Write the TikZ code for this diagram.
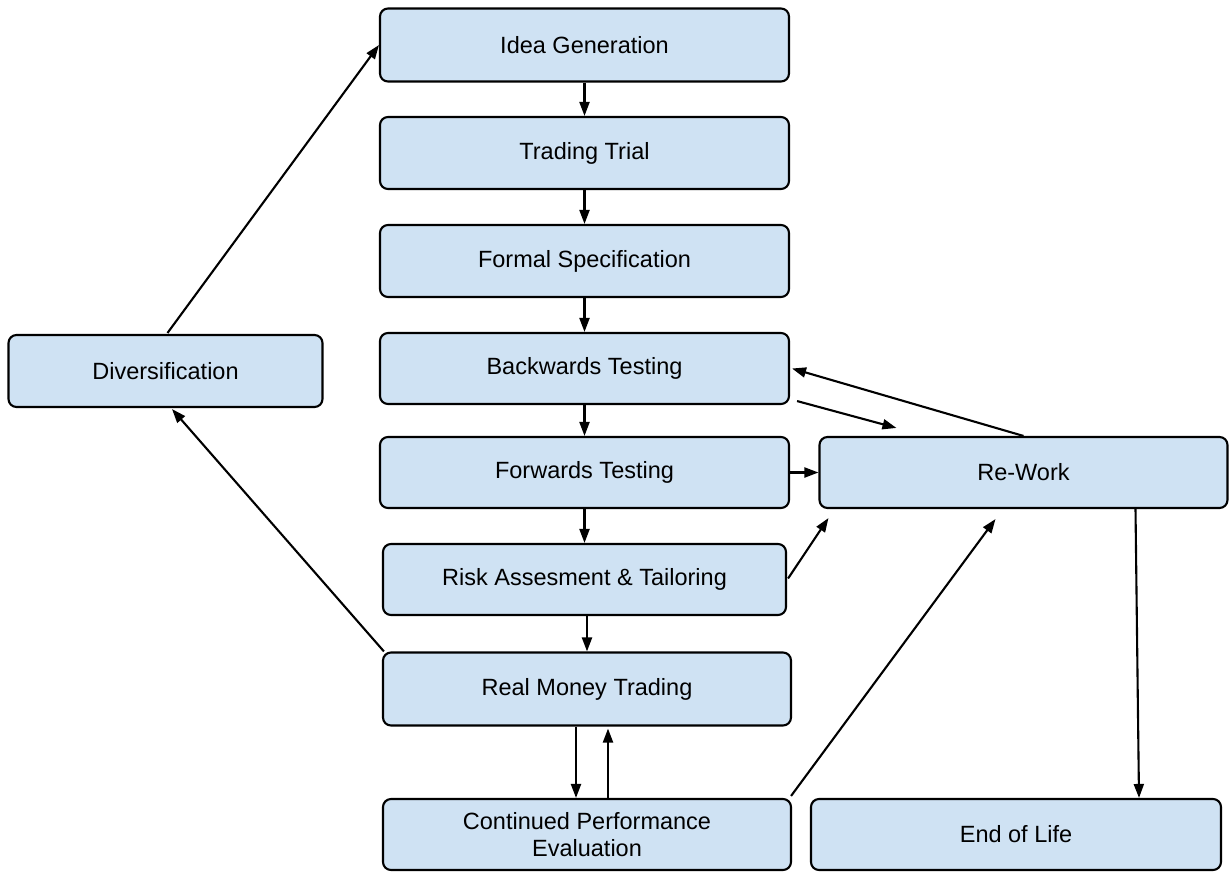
\documentclass[tikz,border=0pt]{standalone}
\usepackage{fontspec}
\setmainfont{Liberation Sans}
\usetikzlibrary{arrows.meta,calc}
\definecolor{boxfill}{HTML}{CFE2F3}
\begin{document}
\begin{tikzpicture}[x=1pt,y=-1pt,
  box/.style={draw=black,fill=boxfill,line width=2.1pt,rounded corners=8pt,
    font=\fontsize{23.5}{27}\selectfont,align=center,inner sep=0pt},
  arr/.style={line width=2.1pt,-{Triangle[length=14pt,width=10pt]}}]
\useasboundingbox (0,0) rectangle (1231,871);
\node[box,minimum width=409pt,minimum height=73pt] (ig) at (584.5,45) {Idea Generation};
\node[box,minimum width=409pt,minimum height=72pt] (tt) at (584.5,153) {Trading Trial};
\node[box,minimum width=409pt,minimum height=72pt] (fs) at (584.5,261) {Formal Specification};
\node[box,minimum width=409pt,minimum height=71pt] (bt) at (584.5,368.5) {Backwards Testing};
\node[box,minimum width=409pt,minimum height=71pt] (ft) at (584.5,472.5) {Forwards Testing};
\node[box,minimum width=403pt,minimum height=71pt] (ra) at (584.5,579.5) {Risk Assesment \& Tailoring};
\node[box,minimum width=408pt,minimum height=73pt] (rm) at (587,689) {Real Money Trading};
\node[box,minimum width=408pt,minimum height=71pt] (cp) at (587,834.5) {Continued Performance\\Evaluation};
\node[box,minimum width=410pt,minimum height=71pt] (el) at (1016,834.5) {End of Life};
\node[box,minimum width=408pt,minimum height=71pt] (rw) at (1023.5,472.5) {Re-Work};
\node[box,minimum width=314pt,minimum height=72pt] (dv) at (165.5,371) {Diversification};

\draw[arr] (ig.south) -- (tt.north);
\draw[arr] (tt.south) -- (fs.north);
\draw[arr] (fs.south) -- (bt.north);
\draw[arr] (bt.south) -- (ft.north);
\draw[arr] (ft.south) -- (ra.north);
\draw[arr] (ra.south -| rm.north) -- (rm.north);
\draw[arr] ($(rm.south)+(-11,0)$) -- ($(cp.north)+(-11,0)$);
\draw[arr] ($(cp.north)+(21,0)$) -- ($(rm.south)+(21,2)$);
\draw[arr] (ft.east) -- (rw.west);
\draw[arr] ($(bt.south east)+(7,-4)$) -- ($(rw.north west)+(78,-8)$);
\draw[arr] (rw.north) -- ($(bt.east)+(2,0)$);
\draw[arr] ($(ra.east)+(1,-1)$) -- ($(rw.south west)+(10,9)$);
\draw[arr] ($(cp.north east)+(-1,-2)$) -- ($(rw.south)+(-28,10)$);
\draw[arr] ($(rw.south)+(112,0)$) -- ($(el.north)+(123,0)$);
\draw[arr] ($(rm.north west)+(2,0)$) -- ($(dv.south)+(6.5,1)$);
\draw[arr] ($(dv.north)+(2,-1)$) -- (ig.west);
\end{tikzpicture}
\end{document}
